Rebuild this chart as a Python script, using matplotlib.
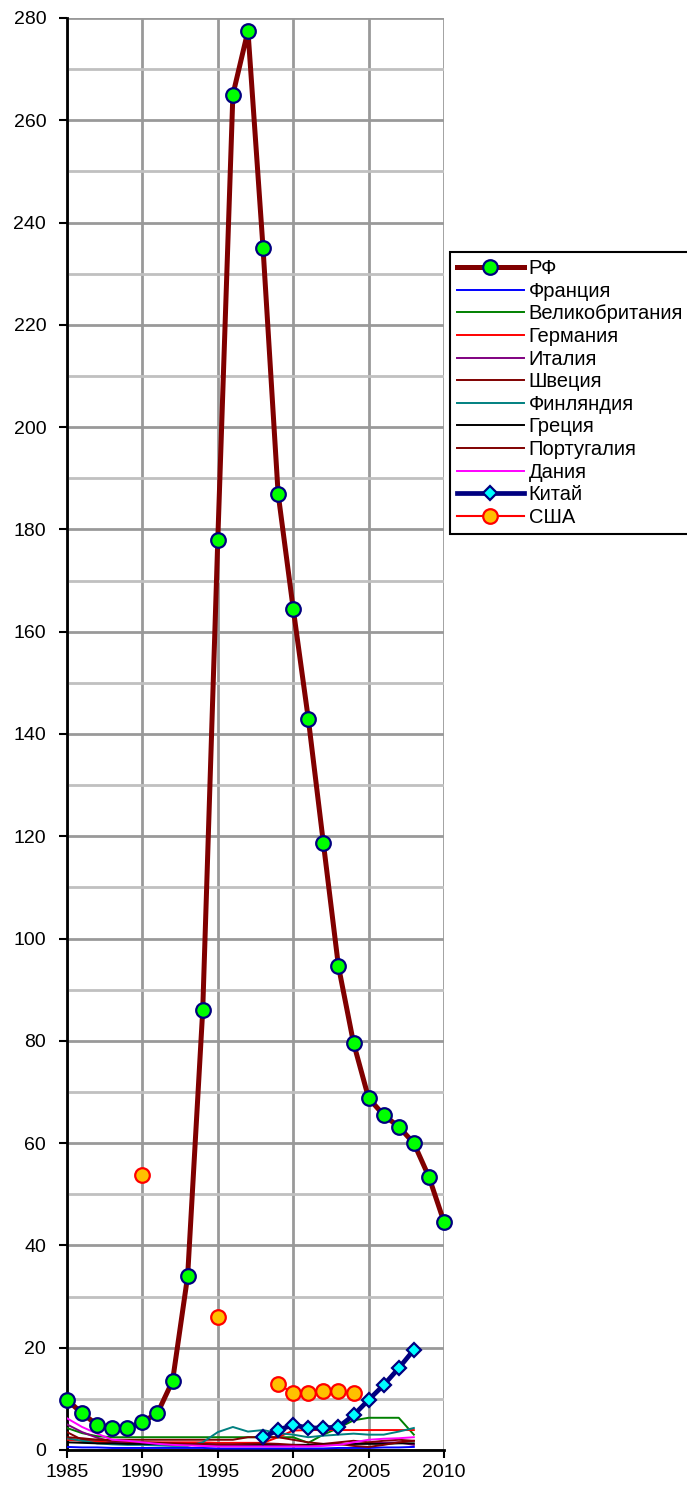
import numpy as np
import matplotlib
matplotlib.use("Agg")
import matplotlib.pyplot as plt

plt.rcParams['font.family'] = ['Liberation Sans', 'DejaVu Sans']

years = list(range(1985, 2011))
years_short = list(range(1985, 2009))

# РФ
rf = [9.8, 7.2, 4.9, 4.3, 4.3, 5.5, 7.2, 13.5, 34.0, 86.0, 178.0, 265.0, 277.5,
      235.0, 187.0, 164.5, 143.0, 118.7, 94.6, 79.6, 68.8, 65.5, 63.2, 60.0, 53.4, 44.6]

# other countries, 1985-2008
france = [0.6, 0.5, 0.5, 0.4, 0.4, 0.4, 0.4, 0.4, 0.4, 0.4, 0.3, 0.3, 0.3, 0.3,
          0.3, 0.3, 0.3, 0.3, 0.4, 0.4, 0.4, 0.5, 0.5, 0.6]
uk = [4.3, 3.3, 2.7, 2.5, 2.5, 2.5, 2.5, 2.5, 2.5, 2.5, 2.5, 2.5, 2.5, 2.5,
      2.5, 2.5, 1.4, 3.0, 4.3, 5.8, 6.3, 6.3, 6.3, 3.0]
germany = [2.0, 1.8, 1.6, 1.5, 1.5, 1.5, 1.5, 1.5, 1.5, 1.5, 1.4, 1.4, 1.4, 1.4,
           2.5, 3.8, 3.9, 3.9, 3.9, 3.9, 3.9, 3.9, 3.9, 3.9]
italy = [5.0, 3.5, 2.4, 1.6, 1.3, 1.2, 1.1, 1.0, 1.0, 0.9, 0.9, 0.9, 0.9, 0.9,
         0.9, 1.0, 1.0, 1.0, 1.1, 1.2, 1.3, 1.4, 1.5, 1.0]
sweden = [3.5, 2.0, 2.0, 2.0, 2.0, 2.0, 2.0, 2.0, 2.0, 2.0, 2.0, 2.0, 2.5, 2.5,
          2.5, 2.0, 1.5, 1.2, 1.5, 1.8, 1.5, 1.8, 2.0, 1.8]
finland = [2.3, 1.8, 1.3, 1.1, 1.0, 1.0, 0.9, 0.8, 0.8, 1.5, 3.5, 4.5, 3.6, 3.9,
           3.3, 3.0, 2.5, 2.8, 3.0, 3.2, 3.0, 3.0, 3.6, 4.3]
greece = [1.5, 1.4, 1.3, 1.3, 1.2, 1.2, 1.2, 1.1, 1.1, 1.1, 1.0, 1.0, 1.0, 1.0,
          1.0, 1.0, 1.0, 1.1, 1.1, 1.2, 1.2, 1.2, 1.3, 1.3]
portugal = [2.5, 2.3, 2.0, 1.8, 1.6, 1.5, 1.4, 1.3, 1.2, 1.2, 1.1, 1.1, 1.2, 1.3,
            1.2, 1.0, 0.8, 1.0, 1.2, 0.8, 0.6, 1.0, 1.5, 1.8]
denmark = [6.2, 4.5, 3.2, 2.0, 1.8, 1.5, 1.2, 1.0, 0.9, 0.8, 0.7, 0.7, 0.7, 0.7,
           0.7, 0.7, 0.7, 0.8, 1.0, 1.5, 2.0, 2.2, 2.3, 2.5]

# Китай
china_years = list(range(1998, 2009))
china = [2.5, 3.9, 4.9, 4.3, 4.3, 4.5, 6.8, 9.8, 12.7, 16.0, 19.6]

# США
usa_years = [1990, 1995, 1999, 2000, 2001, 2002, 2003, 2004]
usa = [53.8, 26.0, 12.9, 11.1, 11.1, 11.5, 11.5, 11.1]

fig = plt.figure(figsize=(6.87, 14.88), dpi=100)
ax = fig.add_axes([67/687, 1 - 1450/1488, (444 - 67)/687, (1450 - 18)/1488])

ax.set_xlim(1985, 2010)
ax.set_ylim(0, 280)
ax.set_xticks(range(1985, 2011, 5))
ax.set_yticks(range(0, 281, 20))
ax.set_yticks(range(10, 280, 20), minor=True)
ax.tick_params(axis='y', which='minor', length=0)
ax.tick_params(axis='y', which='major', labelsize=14, length=6, width=1.5,
               direction='out', pad=9)
ax.tick_params(axis='x', which='major', labelsize=14, length=6, width=1.5,
               direction='out', pad=4)
ax.grid(axis='x', which='major', color='#999999', linewidth=2)
ax.grid(axis='y', which='major', color='#999999', linewidth=2)
ax.grid(axis='y', which='minor', color='#c0c0c0', linewidth=2)
ax.set_axisbelow(True)
ax.spines['left'].set_linewidth(2)
ax.spines['bottom'].set_linewidth(2)
ax.spines['top'].set_visible(False)
ax.spines['right'].set_visible(False)

lw = 1.4
ax.plot(years, rf, color='#800000', lw=3.6, marker='o', ms=10.5,
        mfc='#00ff00', mec='#000080', mew=1.6, label='РФ', zorder=5, clip_on=False)
ax.plot(years_short, france, color='#0000ff', lw=lw, label='Франция', zorder=3)
ax.plot(years_short, uk, color='#008000', lw=lw, label='Великобритания', zorder=3)
ax.plot(years_short, germany, color='#ff0000', lw=lw, label='Германия', zorder=3)
ax.plot(years_short, italy, color='#800080', lw=lw, label='Италия', zorder=3)
ax.plot(years_short, sweden, color='#800000', lw=lw, label='Швеция', zorder=3)
ax.plot(years_short, finland, color='#008080', lw=lw, label='Финляндия', zorder=3)
ax.plot(years_short, greece, color='#000000', lw=lw, label='Греция', zorder=3)
ax.plot(years_short, portugal, color='#800000', lw=lw, label='Португалия', zorder=3)
ax.plot(years_short, denmark, color='#ff00ff', lw=lw, label='Дания', zorder=3)
ax.plot(china_years, china, color='#000080', lw=3.4, marker='D', ms=7,
        mfc='#00ffff', mec='#000080', mew=1.6, label='Китай', zorder=6)

# USA: gaps between non-consecutive years
usa_x = []
usa_y = []
for i, (yr, v) in enumerate(zip(usa_years, usa)):
    if i > 0 and yr - usa_years[i - 1] > 1:
        usa_x.append(np.nan)
        usa_y.append(np.nan)
    usa_x.append(yr)
    usa_y.append(v)
ax.plot(usa_x, usa_y, color='#ff0000', lw=1.5, marker='o', ms=10.5,
        mfc='#ffc000', mec='#ff0000', mew=1.6, label='США', zorder=6)

leg = fig.legend(loc='upper left', bbox_to_anchor=(450/687, 1 - 252/1488),
                 bbox_transform=fig.transFigure, fontsize=14.5, frameon=True,
                 fancybox=False, framealpha=1, edgecolor='black',
                 handlelength=3.3, handletextpad=0.25, labelspacing=0.18,
                 borderpad=0.35, borderaxespad=0)
leg.get_frame().set_linewidth(1.5)

fig.savefig('out.png', dpi=100)
